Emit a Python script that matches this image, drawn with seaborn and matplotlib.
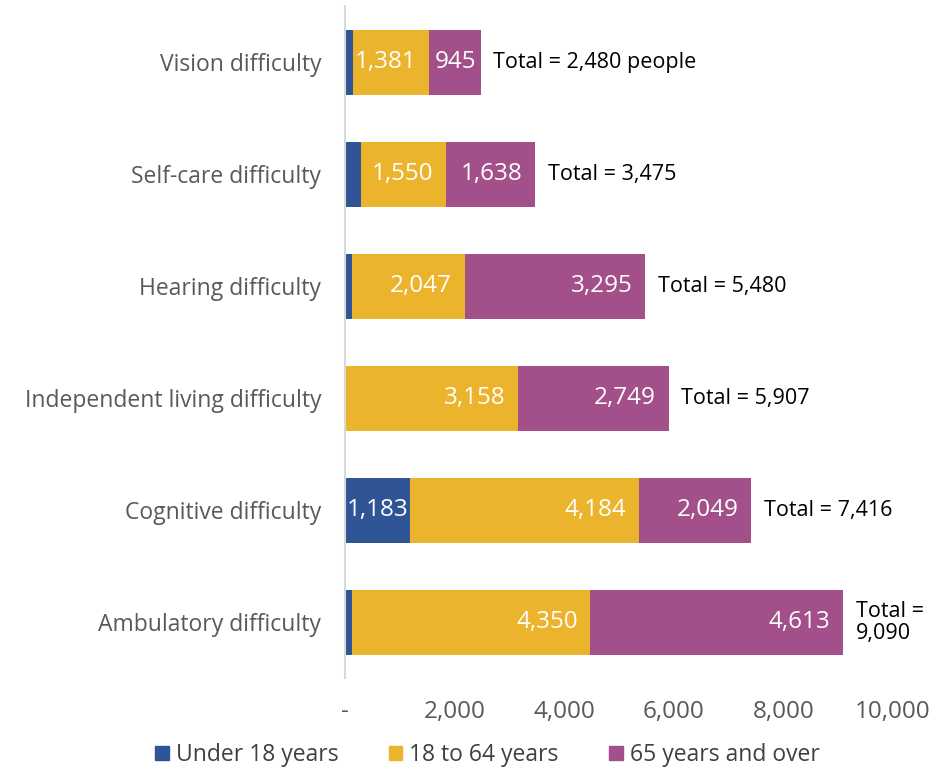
import numpy as np
import pandas as pd
import seaborn as sns
import matplotlib.pyplot as plt
from matplotlib.patches import Patch

# datos
categorias = ["Vision difficulty", "Self-care difficulty", "Hearing difficulty",
              "Independent living difficulty", "Cognitive difficulty", "Ambulatory difficulty"]
menores_18 = [154, 287, 138, 0, 1183, 127]
de_18_a_64 = [1381, 1550, 2047, 3158, 4184, 4350]
mayores_65 = [945, 1638, 3295, 2749, 2049, 4613]
totales = [2480, 3475, 5480, 5907, 7416, 9090]
etiquetas_total = ["Total = 2,480 people", "Total = 3,475", "Total = 5,480",
                   "Total = 5,907", "Total = 7,416", "Total =\n9,090"]
series = ["Under 18 years", "18 to 64 years", "65 years and over"]
colores = ["#2F5597", "#ECB32C", "#A3508A"]

df = pd.DataFrame({"cat": categorias, "u18": menores_18, "mid": de_18_a_64, "old": mayores_65})
df["c1"] = df["u18"]
df["c2"] = df["u18"] + df["mid"]
df["c3"] = df["c2"] + df["old"]

sns.set_style("white")
plt.rcParams["font.family"] = ["Open Sans", "DejaVu Sans"]

fig = plt.figure(figsize=(9.37, 7.76), dpi=100)
ax = fig.add_axes([0.368, 0.126, 0.585, 0.866])

# barras apiladas: se dibuja el acumulado de atras hacia adelante
for col, color in zip(["c3", "c2", "c1"], colores[::-1]):
    sns.barplot(data=df, x=col, y="cat", orient="h", color=color, width=0.58,
                saturation=1, ax=ax, linewidth=0)

ax.set_xlim(0, 10000)
ax.set_ylim(5.5, -0.5)
ax.set_xlabel("")
ax.set_ylabel("")
ax.set_xticks(range(0, 10001, 2000))
ax.set_xticklabels(["-"] + [f"{v:,}" for v in range(2000, 10001, 2000)])
ax.tick_params(axis="x", labelsize=17.5, colors="#595959", length=0, pad=16)
ax.tick_params(axis="y", labelsize=16.5, colors="#595959", length=0, pad=17)
for s in ["top", "right", "bottom"]:
    ax.spines[s].set_visible(False)
ax.spines["left"].set_color("#D9D9D9")
ax.spines["left"].set_linewidth(1.5)

# etiquetas de valores
for i in range(len(categorias)):
    if menores_18[i] > 500:
        ax.text(menores_18[i] / 2, i, f"{menores_18[i]:,}", ha="center", va="center",
                color="white", fontsize=17.5)
    fin_mid = menores_18[i] + de_18_a_64[i]
    ax.annotate(f"{de_18_a_64[i]:,}", (fin_mid, i), xytext=(-9, 0), textcoords="offset points",
                ha="right", va="center", color="white", fontsize=17.5)
    fin_old = totales[i]
    desp = -3 if mayores_65[i] < 1200 else -9
    ax.annotate(f"{mayores_65[i]:,}", (fin_old, i), xytext=(desp, 0), textcoords="offset points",
                ha="right", va="center", color="white", fontsize=17.5)
    ax.annotate(etiquetas_total[i], (fin_old, i), xytext=(9, 0), textcoords="offset points",
                ha="left", va="center", color="black", fontsize=15.5, linespacing=1.05)

handles = [Patch(color=c, label=s) for c, s in zip(colores, series)]
fig.legend(handles=handles, loc="lower center", bbox_to_anchor=(0.52, -0.015), ncol=3,
           frameon=False, fontsize=16.5, handlelength=0.6, handleheight=0.6,
           handletextpad=0.3, columnspacing=2.2, labelcolor="#404040")

plt.savefig("out.png", dpi=100)
plt.close()
